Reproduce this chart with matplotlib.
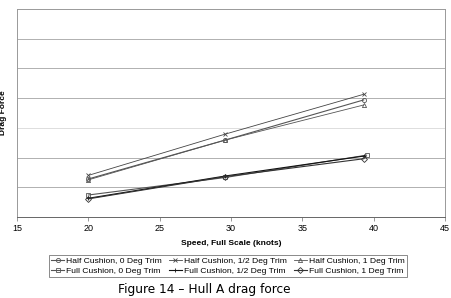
import matplotlib
matplotlib.use("Agg")
import matplotlib.pyplot as plt

speed = [20.0, 29.6, 39.3]
speed_full0 = [20.0, 29.6, 39.5]
half_0 = [1.28, 2.59, 3.94]
half_05 = [1.40, 2.79, 4.13]
half_1 = [1.25, 2.59, 3.77]
full_0 = [0.74, 1.33, 2.08]
full_05 = [0.63, 1.38, 2.05]
full_1 = [0.61, 1.36, 1.96]

labels = ["Half Cushion, 0 Deg Trim", "Half Cushion, 1/2 Deg Trim", "Half Cushion, 1 Deg Trim",
          "Full Cushion, 0 Deg Trim", "Full Cushion, 1/2 Deg Trim", "Full Cushion, 1 Deg Trim"]
xticks = [15, 20, 25, 30, 35, 40, 45]

plt.rcParams['font.family'] = ['Liberation Sans', 'DejaVu Sans']

fig = plt.figure(figsize=(4.51, 2.98), dpi=100)
ax = fig.add_axes([17/451, 1-217/298, (445-17)/451, (217-9)/298])

series = [
    (speed, half_0, 'o', '#555555', 0.8, labels[0]),
    (speed, half_05, 'x', '#444444', 0.6, labels[1]),
    (speed, half_1, '^', '#555555', 0.6, labels[2]),
    (speed_full0, full_0, 's', '#555555', 0.8, labels[3]),
    (speed, full_05, '+', '#111111', 0.8, labels[4]),
    (speed, full_1, 'D', '#333333', 0.8, labels[5]),
]
handles = {}
for xs, ys, m, c, lw, lab in series:
    h, = ax.plot(xs, ys, color=c, lw=lw, marker=m, markersize=3,
                 markerfacecolor='none', markeredgewidth=0.6, markeredgecolor=c, label=lab)
    handles[lab] = h

ax.set_xlim(15, 45)
ax.set_ylim(0, 7)
ax.set_xticks(xticks)
ax.set_yticks(range(0, 8))
ax.set_yticklabels([])
for y in range(1, 7):
    ax.axhline(y, color='#dddddd' if y == 3 else '#b0b0b0', lw=0.7, zorder=0)
ax.tick_params(axis='y', length=0)
ax.tick_params(axis='x', labelsize=6.5, length=3, width=0.6, color='#888888', pad=2)
for s in ax.spines.values():
    s.set_color('#999999')
    s.set_linewidth(0.7)
ax.spines['bottom'].set_color('#666666')

ax.set_xlabel("Speed, Full Scale (knots)", fontsize=6, fontweight='bold', labelpad=5)
fig.text(4/451, 1-113/298, "Drag Force", rotation=90, fontsize=6, fontweight='bold',
         ha='center', va='center')

order = [labels[0], labels[3], labels[1], labels[4], labels[2], labels[5]]
leg = fig.legend([handles[l] for l in order], order, ncol=3, loc='center',
                 bbox_to_anchor=(228/451, 1-266/298), fontsize=6.1, frameon=True,
                 fancybox=False, edgecolor='#555555', handlelength=1.5, handletextpad=0.3,
                 columnspacing=0.8, labelspacing=0.3, borderpad=0.25, borderaxespad=0)
leg.get_frame().set_linewidth(0.6)

fig.text(204/451, 1-290/298, "Figure 14 \u2013 Hull A drag force", fontsize=8.7,
         family='DejaVu Sans', ha='center', va='center')

fig.savefig("out.png", dpi=100)
